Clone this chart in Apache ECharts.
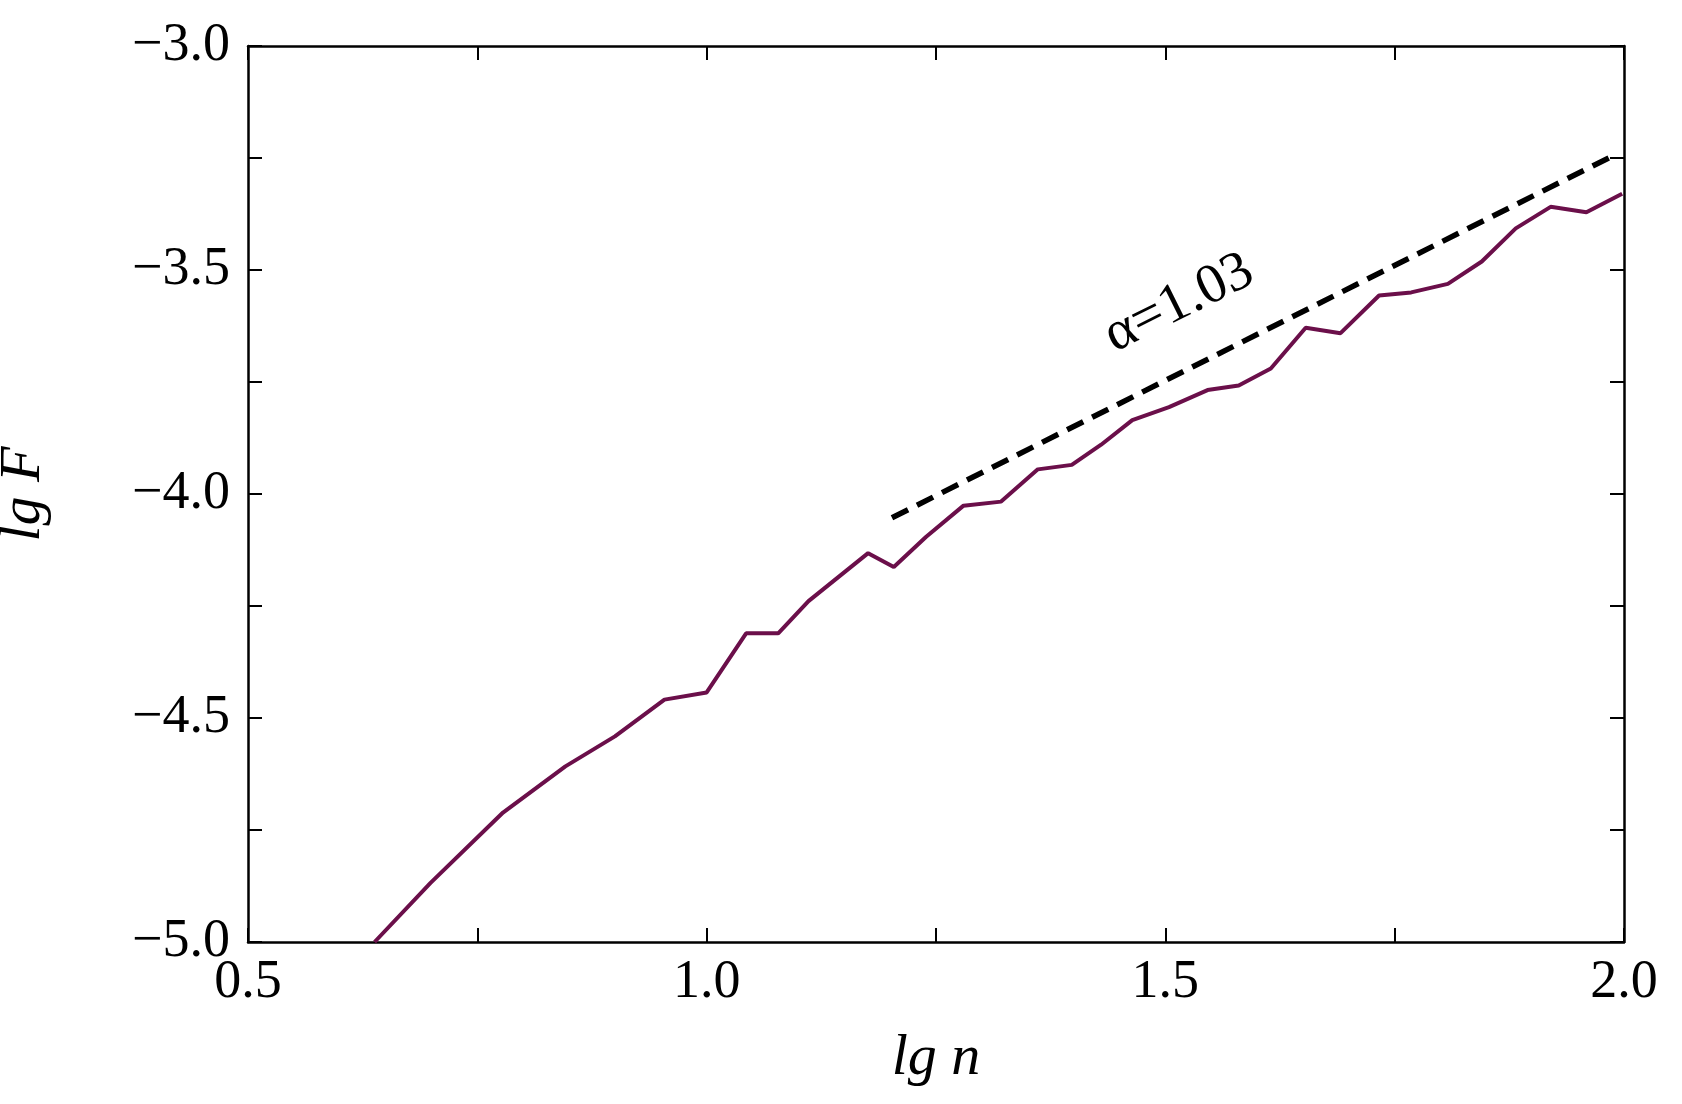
<!DOCTYPE html>
<html>
<head>
<meta charset="utf-8">
<script src="https://cdn.jsdelivr.net/npm/echarts@6/dist/echarts.min.js"></script>
<style>html,body{margin:0;background:#fff}#chart{width:1682px;height:1104px}</style>
</head>
<body>
<div id="chart"></div>
<script>
var lgN = [0.638, 0.699, 0.778, 0.846, 0.900, 0.954, 1.000, 1.043, 1.078, 1.111, 1.176, 1.204, 1.239, 1.280, 1.321, 1.361, 1.398, 1.430, 1.464, 1.504, 1.546, 1.580, 1.615, 1.653, 1.691, 1.733, 1.768, 1.808, 1.845, 1.882, 1.920, 1.959, 1.998];
var lgF = [-5.000, -4.868, -4.711, -4.608, -4.541, -4.459, -4.443, -4.311, -4.311, -4.239, -4.132, -4.163, -4.096, -4.026, -4.017, -3.945, -3.935, -3.890, -3.835, -3.806, -3.768, -3.758, -3.720, -3.629, -3.641, -3.557, -3.550, -3.531, -3.481, -3.407, -3.359, -3.371, -3.330];
var fitX = [1.202, 1.991];
var fitY = [-4.053, -3.242];
var fitLabel = 'α=1.03';

var font = '"Liberation Serif", "Times New Roman", serif';
var chart = echarts.init(document.getElementById('chart'));
function half(v) { return Math.abs(v * 2 - Math.round(v * 2)) < 1e-6 ? v.toFixed(1).replace('-', '\u2212') : ''; }
var tickStyle = { show: true, inside: true, length: 14, lineStyle: { color: '#000', width: 2 } };
var lineStyle = { show: true, lineStyle: { color: '#000', width: 2.5 } };
chart.setOption({
  animation: false,
  grid: { left: 248, right: 58, top: 46, bottom: 162, outerBoundsMode: 'none', containLabel: false },
  xAxis: [{
    type: 'value', min: 0.5, max: 2.0, interval: 0.25,
    name: 'lg n', nameLocation: 'middle', nameGap: 88,
    nameTextStyle: { fontFamily: font, fontStyle: 'italic', fontSize: 58, color: '#000' },
    axisLine: lineStyle, axisTick: tickStyle, splitLine: { show: false },
    axisLabel: { formatter: half, fontFamily: font, fontSize: 54, color: '#000', margin: 14 }
  }, {
    type: 'value', min: 0.5, max: 2.0, interval: 0.25, position: 'top',
    axisLine: lineStyle, axisTick: tickStyle, axisLabel: { show: false }, splitLine: { show: false }
  }],
  yAxis: [{
    type: 'value', min: -5, max: -3, interval: 0.25,
    name: 'lg F', nameLocation: 'middle', nameGap: 195,
    nameTextStyle: { fontFamily: font, fontStyle: 'italic', fontSize: 58, color: '#000' },
    axisLine: lineStyle, axisTick: tickStyle, splitLine: { show: false },
    axisLabel: { formatter: half, fontFamily: font, fontSize: 54, color: '#000', margin: 18 }
  }, {
    type: 'value', min: -5, max: -3, interval: 0.25, position: 'right',
    axisLine: lineStyle, axisTick: tickStyle, axisLabel: { show: false }, splitLine: { show: false }
  }],
  series: [{
    type: 'line', showSymbol: false,
    data: lgN.map(function (x, i) { return [x, lgF[i]]; }),
    lineStyle: { color: '#6b0f4a', width: 4 }
  }, {
    type: 'line', showSymbol: false,
    data: fitX.map(function (x, i) { return [x, fitY[i]]; }),
    lineStyle: { color: '#000', width: 5.5, type: [18, 10] }
  }]
});
var p = chart.convertToPixel({ gridIndex: 0 }, [1.515, -3.575]);
chart.setOption({
  graphic: [{
    type: 'text', x: p[0], y: p[1], rotation: 26.5 * Math.PI / 180,
    style: { text: fitLabel, fontFamily: font, fontSize: 56, fill: '#000', align: 'center', verticalAlign: 'middle' }
  }]
});
</script>
</body>
</html>
